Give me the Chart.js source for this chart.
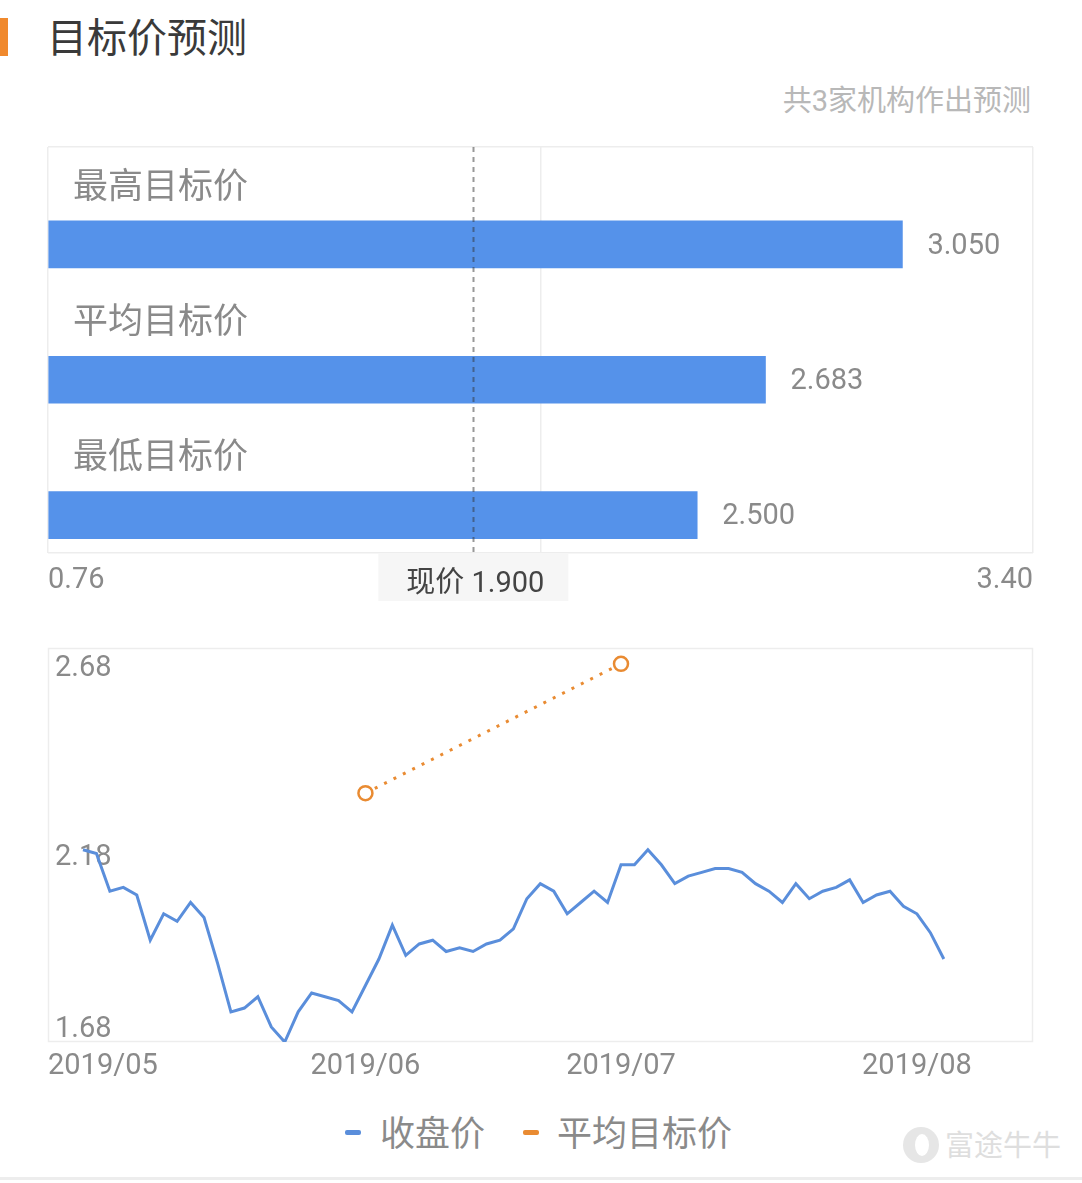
<!DOCTYPE html>
<html>
<head>
<meta charset="utf-8">
<title>目标价预测</title>
<script src="https://cdn.jsdelivr.net/npm/chart.js@4.4.0/dist/chart.umd.min.js"></script>
<style>
  body { margin: 0; width: 1082px; height: 1183px; background: #fff; position: relative; overflow: hidden;
         font-family: Roboto, "Noto Sans CJK SC", sans-serif; }
  .accent { position: absolute; left: 0; top: 18px; width: 8px; height: 38px; background: #f0892d; }
  .title { position: absolute; left: 47px; top: 15px; font-size: 40px; line-height: 1; color: #3a3a3a;
           font-family: "Noto Sans CJK SC", sans-serif; }
  .sub { position: absolute; right: 51px; top: 87px; font-size: 29px; line-height: 1; color: #b8b8b8; }
  #topWrap { position: absolute; left: 0; top: 120px; }
  #lineWrap { position: absolute; left: 0; top: 630px; }
  .legend { position: absolute; top: 1113px; left: 0; width: 1082px; line-height: 1; font-size: 35px; color: #8a8a8a;
            font-family: "Noto Sans CJK SC", sans-serif; }
  .legend span { position: absolute; }
  .mark { width: 16px; height: 5px; border-radius: 2px; top: 17px; }
  .watermark { position: absolute; left: 945px; top: 1129px; font-size: 29px; line-height: 1; color: #dedede;
               font-family: "Noto Sans CJK SC", sans-serif; }
  .logo { position: absolute; left: 903px; top: 1127px; width: 36px; height: 36px; border-radius: 50%; background: #e6e6e6; }
  .logo::after { content: ''; position: absolute; left: 12px; top: 7px; width: 14px; height: 22px; border-radius: 50%; background: #fff; }
  .bottomline { position: absolute; left: 0; top: 1177px; width: 1082px; height: 3px; background: #ededed; }
</style>
</head>
<body>
<div class="accent"></div>
<div class="title">目标价预测</div>
<div class="sub">共3家机构作出预测</div>
<div id="topWrap"><canvas id="targetChart" width="1082" height="490"></canvas></div>
<div id="lineWrap"><canvas id="priceChart" width="1082" height="455"></canvas></div>
<div class="legend">
  <span class="mark" style="left:345px;background:#5a8edb"></span>
  <span style="left:380px">收盘价</span>
  <span class="mark" style="left:523px;background:#e98b32"></span>
  <span style="left:557px">平均目标价</span>
</div>
<div class="logo"></div>
<div class="watermark">富途牛牛</div>
<div class="bottomline"></div>

<script>
// target price bars
const categories = ['最高目标价', '平均目标价', '最低目标价'];
const targetValues = [3.050, 2.683, 2.500];
const currentPrice = 1.900;
const priceAxisTicks = [0.76, 2.08, 3.40];

// closing price history
const dates = [
  '2019-05-02','2019-05-03','2019-05-06','2019-05-07','2019-05-08','2019-05-09','2019-05-10','2019-05-14',
  '2019-05-15','2019-05-16','2019-05-17','2019-05-20','2019-05-21','2019-05-22','2019-05-23','2019-05-24',
  '2019-05-27','2019-05-28','2019-05-29','2019-05-30','2019-05-31',
  '2019-06-03','2019-06-04','2019-06-05','2019-06-06','2019-06-10','2019-06-11','2019-06-12','2019-06-13',
  '2019-06-14','2019-06-17','2019-06-18','2019-06-19','2019-06-20','2019-06-21','2019-06-24','2019-06-25',
  '2019-06-26','2019-06-27','2019-06-28',
  '2019-07-02','2019-07-03','2019-07-04','2019-07-05','2019-07-08','2019-07-09','2019-07-10','2019-07-11',
  '2019-07-12','2019-07-15','2019-07-16','2019-07-17','2019-07-18','2019-07-19','2019-07-22','2019-07-23',
  '2019-07-24','2019-07-25','2019-07-26','2019-07-29','2019-07-30','2019-07-31',
  '2019-08-01','2019-08-02','2019-08-05'
];
const closePrices = [
  2.19, 2.18, 2.08, 2.09, 2.07, 1.95, 2.02, 2.00, 2.05, 2.01,
  1.89, 1.76, 1.77, 1.80, 1.72, 1.68, 1.76, 1.81, 1.80, 1.79, 1.76,
  1.83, 1.90, 1.99, 1.91, 1.94, 1.95, 1.92, 1.93, 1.92, 1.94,
  1.95, 1.98, 2.06, 2.10, 2.08, 2.02, 2.05, 2.08, 2.05,
  2.15, 2.15, 2.19, 2.15, 2.10, 2.12, 2.13, 2.14, 2.14, 2.13,
  2.10, 2.08, 2.05, 2.10, 2.06, 2.08, 2.09, 2.11, 2.05, 2.07,
  2.08, 2.04, 2.02, 1.97, 1.90
];
const avgTargetDates = ['2019-06-03', '2019-07-02'];
const avgTargetPrices = [2.34, 2.683];
const closeAxisTicks = [1.68, 2.18, 2.68];
const monthLabels = ['2019/05', '2019/06', '2019/07', '2019/08'];

Chart.defaults.font.family = 'Roboto, "Noto Sans CJK SC", sans-serif';
const BLUE = '#5592ea';
const LINE_BLUE = '#5a8edb';
const ORANGE = '#e98b32';
const GRID = '#ededed';
const LABEL = '#8a8a8a';

// labels, current price marker for the bar chart
const targetDecor = {
  id: 'targetDecor',
  afterDatasetsDraw(chart) {
    const ctx = chart.ctx, area = chart.chartArea;
    const xs = chart.scales.x;
    const meta = chart.getDatasetMeta(0);
    ctx.save();
    meta.data.forEach((bar, i) => {
      ctx.fillStyle = LABEL;
      ctx.textBaseline = 'middle';
      ctx.textAlign = 'left';
      ctx.font = '29px Roboto, "Noto Sans CJK SC"';
      ctx.fillText(targetValues[i].toFixed(3), bar.x + 25, bar.y + 2);
      ctx.font = '35px "Noto Sans CJK SC"';
      ctx.fillText(categories[i], area.left + 25, bar.y - 60);
    });
    // current price dashed line
    const px = Math.round(xs.getPixelForValue(currentPrice)) + 0.5;
    ctx.strokeStyle = 'rgba(50,50,50,0.5)';
    ctx.lineWidth = 2;
    ctx.setLineDash([5, 5]);
    ctx.beginPath();
    ctx.moveTo(px, area.top);
    ctx.lineTo(px, area.bottom);
    ctx.stroke();
    ctx.restore();
  },
  afterDraw(chart) {
    const ctx = chart.ctx, area = chart.chartArea;
    const px = chart.scales.x.getPixelForValue(currentPrice);
    ctx.save();
    ctx.fillStyle = '#f6f6f6';
    ctx.fillRect(px - 95, area.bottom + 1, 190, 47);
    ctx.fillStyle = '#444';
    ctx.font = '29px Roboto, "Noto Sans CJK SC"';
    ctx.textAlign = 'center';
    ctx.textBaseline = 'middle';
    ctx.fillText('现价 ' + currentPrice.toFixed(3), px + 2, area.bottom + 32);
    ctx.restore();
  }
};

new Chart(document.getElementById('targetChart'), {
  type: 'bar',
  data: {
    datasets: [{
      data: categories.map((c, i) => ({ x: targetValues[i], y: i + 0.72 })),
      backgroundColor: BLUE,
      barThickness: 47,
      base: priceAxisTicks[0]
    }]
  },
  options: {
    indexAxis: 'y',
    responsive: false,
    animation: false,
    layout: { padding: { left: 48, right: 49, top: 27, bottom: 7 } },
    plugins: { legend: { display: false }, tooltip: { enabled: false } },
    scales: {
      x: {
        type: 'linear',
        min: priceAxisTicks[0],
        max: priceAxisTicks[priceAxisTicks.length - 1],
        afterBuildTicks: s => { s.ticks = priceAxisTicks.map(v => ({ value: v })); },
        afterFit: s => { s.height = 50; },
        grid: { color: GRID, lineWidth: 1.5, drawTicks: false },
        border: { display: false },
        ticks: { align: 'inner', padding: 10, color: LABEL, font: { size: 29 }, callback: v => v.toFixed(2) }
      },
      y: {
        type: 'linear',
        min: 0,
        max: categories.length,
        reverse: true,
        offset: false,
        afterBuildTicks: s => { s.ticks = [{ value: 0 }, { value: categories.length }]; },
        afterFit: s => { s.width = 0; },
        grid: { color: GRID, lineWidth: 1.5, drawTicks: false, offset: false },
        border: { display: false },
        ticks: { display: false }
      }
    }
  },
  plugins: [targetDecor]
});

// frame and axis labels for the price chart
const priceDecor = {
  id: 'priceDecor',
  beforeDatasetsDraw(chart) {
    const ctx = chart.ctx, area = chart.chartArea;
    const xs = chart.scales.x, ys = chart.scales.y;
    ctx.save();
    ctx.strokeStyle = GRID;
    ctx.lineWidth = 1.5;
    ctx.strokeRect(area.left + 0.5, area.top + 0.5, area.width - 1, area.height - 1);

    ctx.fillStyle = LABEL;
    ctx.font = '29px Roboto, "Noto Sans CJK SC"';
    ctx.textBaseline = 'middle';
    ctx.textAlign = 'left';
    closeAxisTicks.forEach(v => {
      const y = Math.min(ys.getPixelForValue(v) + 4, area.bottom - 12);
      ctx.fillText(v.toFixed(2), area.left + 7, y);
    });

    monthLabels.forEach(lab => {
      const idx = dates.findIndex(d => d.slice(0, 7).replace('-', '/') === lab);
      const w = ctx.measureText(lab).width;
      let x = xs.getPixelForValue(idx) - w / 2;
      x = Math.max(area.left, Math.min(x, area.right - w));
      ctx.fillText(lab, x, area.bottom + 25);
    });
    ctx.restore();
  }
};

new Chart(document.getElementById('priceChart'), {
  type: 'line',
  data: {
    datasets: [
      {
        label: '收盘价',
        data: closePrices.map((v, i) => ({ x: i, y: v })),
        borderColor: LINE_BLUE,
        borderWidth: 3,
        pointRadius: 0,
        tension: 0
      },
      {
        label: '平均目标价',
        data: avgTargetDates.map((d, k) => ({ x: dates.indexOf(d), y: avgTargetPrices[k] })),
        borderColor: ORANGE,
        borderWidth: 3,
        borderDash: [3, 7.5],
        pointRadius: 7,
        pointBorderWidth: 2.5,
        pointBackgroundColor: '#fff',
        pointBorderColor: ORANGE
      }
    ]
  },
  options: {
    responsive: false,
    animation: false,
    layout: { padding: { left: 48, right: 49, top: 18, bottom: 43 } },
    plugins: { legend: { display: false }, tooltip: { enabled: false } },
    scales: {
      x: { type: 'linear', display: false, min: -2.6, max: 70.63 },
      y: { type: 'linear', display: false, min: 1.68, max: 2.725 }
    }
  },
  plugins: [priceDecor]
});
</script>
</body>
</html>
